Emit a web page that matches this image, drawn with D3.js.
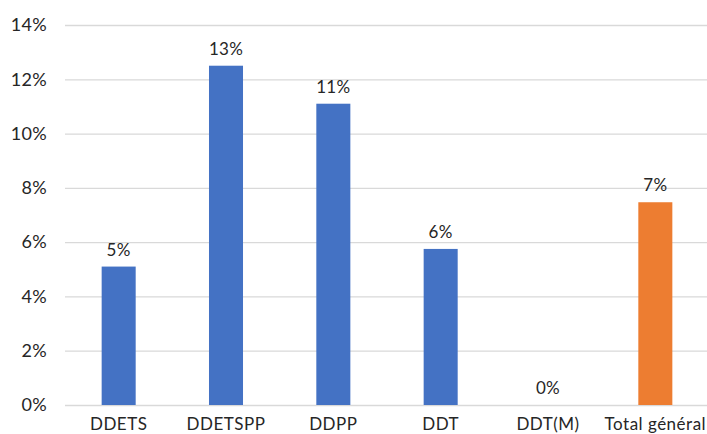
<!DOCTYPE html>
<html>
<head>
<meta charset="utf-8">
<script src="https://cdn.jsdelivr.net/npm/d3@7"></script>
<style>
  html, body { margin: 0; padding: 0; background: #fff; }
  svg { display: block; font-family: Lato, "Noto Sans", sans-serif; }
</style>
</head>
<body>
<svg id="chart" width="707" height="434"></svg>
<script>
// Share per service (percent)
const categories = ["DDETS", "DDETSPP", "DDPP", "DDT", "DDT(M)", "Total général"];
const values = [5.1, 12.5, 11.1, 5.75, 0, 7.47];
const labels = ["5%", "13%", "11%", "6%", "0%", "7%"];
const yTicks = [0, 2, 4, 6, 8, 10, 12, 14];
const barColors = ["#4472C4", "#4472C4", "#4472C4", "#4472C4", "#4472C4", "#ED7D31"];

const svg = d3.select("#chart");
const margin = { top: 25, right: -2, bottom: 29, left: 65 };
const W = 707, H = 434;

const x = d3.scaleBand()
  .domain(categories)
  .range([margin.left, W - margin.right])
  .paddingInner(0.683)
  .paddingOuter(0.3415);

const y = d3.scaleLinear()
  .domain([0, 14])
  .range([H - margin.bottom, margin.top]);

// Horizontal gridlines
svg.append("g")
  .selectAll("line")
  .data(yTicks)
  .join("line")
  .attr("x1", margin.left)
  .attr("x2", W)
  .attr("y1", d => y(d) + 0.5)
  .attr("y2", d => y(d) + 0.5)
  .attr("stroke", "#d9d9d9")
  .attr("stroke-width", 1.3);

// Y axis labels
const yAxis = d3.axisLeft(y)
  .tickValues(yTicks)
  .tickFormat(d => d + "%")
  .tickSize(0)
  .tickPadding(18);

svg.append("g")
  .attr("transform", `translate(${margin.left},0)`)
  .call(yAxis)
  .call(g => g.select(".domain").remove())
  .call(g => g.selectAll("text")
    .attr("font-size", 18)
    .attr("letter-spacing", 0.3)
    .attr("font-family", "Lato, 'Noto Sans', sans-serif")
    .attr("fill", "#262626"));

// Bars
svg.append("g")
  .selectAll("rect")
  .data(categories)
  .join("rect")
  .attr("x", d => x(d))
  .attr("width", x.bandwidth())
  .attr("y", (d, i) => y(values[i]))
  .attr("height", (d, i) => y(0) - y(values[i]))
  .attr("fill", (d, i) => barColors[i]);

// Value labels
svg.append("g")
  .selectAll("text")
  .data(categories)
  .join("text")
  .attr("x", d => x(d) + x.bandwidth() / 2)
  .attr("y", (d, i) => y(values[i]) - 11)
  .attr("text-anchor", "middle")
  .attr("font-size", 17)
  .attr("letter-spacing", 0.3)
  .attr("fill", "#262626")
  .text((d, i) => labels[i]);

// X axis labels
const xAxis = d3.axisBottom(x).tickSize(0).tickPadding(12.5);
svg.append("g")
  .attr("transform", `translate(0,${y(0)})`)
  .call(xAxis)
  .call(g => g.select(".domain").remove())
  .call(g => g.selectAll("text")
    .attr("font-size", 17)
    .attr("letter-spacing", 0.5)
    .attr("font-family", "Lato, 'Noto Sans', sans-serif")
    .attr("fill", "#262626"));
</script>
</body>
</html>
